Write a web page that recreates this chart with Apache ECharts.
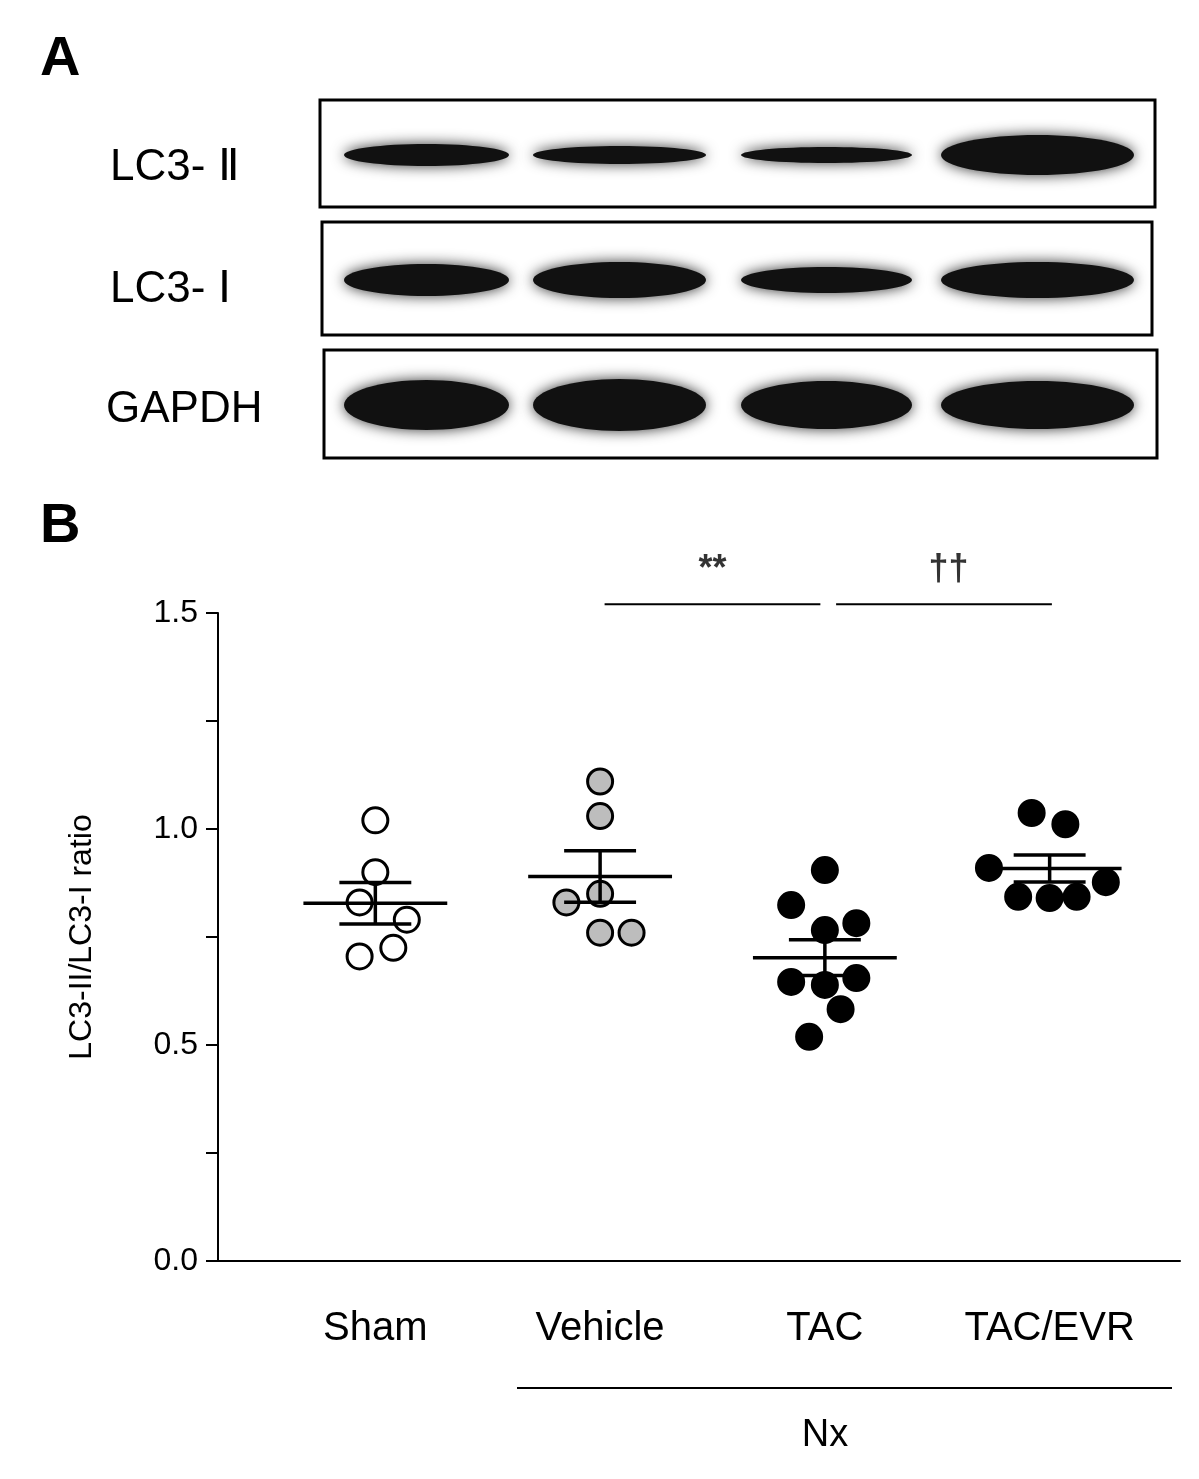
<!DOCTYPE html>
<html>
<head>
<meta charset="utf-8">
<script src="https://cdn.jsdelivr.net/npm/echarts@6/dist/echarts.min.js"></script>
<style>html,body{margin:0;background:#fff}#chart{width:1199px;height:1479px}</style>
</head>
<body>
<div id="chart"></div>
<script>
var groups = ['Sham', 'Vehicle', 'TAC', 'TAC/EVR'];
var sham = [1.02, 0.90, 0.83, 0.79, 0.725, 0.705];
var shamJitter = [0, 0, -0.07, 0.14, 0.08, -0.07];
var vehicle = [1.11, 1.03, 0.85, 0.83, 0.76, 0.76];
var vehicleJitter = [0, 0, 0, -0.15, 0, 0.14];
var tac = [0.905, 0.824, 0.782, 0.766, 0.646, 0.639, 0.655, 0.583, 0.519];
var tacJitter = [0, -0.15, 0.14, 0, -0.15, 0, 0.14, 0.07, -0.07];
var evr = [1.037, 1.011, 0.91, 0.877, 0.843, 0.84, 0.843];
var evrJitter = [-0.08, 0.07, -0.27, 0.25, -0.14, 0, 0.12];
var yTicks = [0, 0.5, 1.0, 1.5];

var chart = echarts.init(document.getElementById('chart'));

function pts(vals, jit, g) {
  return vals.map(function (v, i) { return [g + jit[i], v]; });
}
function stats(vals, g) {
  var n = vals.length, m = vals.reduce(function (a, b) { return a + b; }, 0) / n;
  var sd = Math.sqrt(vals.reduce(function (a, b) { return a + (b - m) * (b - m); }, 0) / (n - 1));
  return [g, m, sd / Math.sqrt(n)];
}
var sets = [sham, vehicle, tac, evr];
var summary = sets.map(function (s, i) { return stats(s, i + 1); });

function dotSeries(data, fill) {
  return {
    type: 'scatter', data: data, symbolSize: 25, z: 3,
    itemStyle: { color: fill, borderColor: '#000', borderWidth: 3, opacity: 1 }
  };
}

// western blot panel (decorative)
var bandRows = [
  { top: 100, bottom: 207, left: 320, right: 1155, h: [22, 18, 16, 40], y: 155 },
  { top: 222, bottom: 335, left: 322, right: 1152, h: [32, 36, 26, 36], y: 280 },
  { top: 350, bottom: 458, left: 324, right: 1157, h: [50, 52, 48, 48], y: 405 }
];
var lanes = [[338, 515], [527, 712], [735, 918], [935, 1140]];
var blot = [];
bandRows.forEach(function (r) {
  blot.push({ type: 'rect', shape: { x: r.left, y: r.top, width: r.right - r.left, height: r.bottom - r.top },
    style: { fill: '#fff', stroke: '#000', lineWidth: 3 } });
  lanes.forEach(function (l, i) {
    blot.push({ type: 'ellipse', shape: { cx: (l[0] + l[1]) / 2, cy: r.y, rx: (l[1] - l[0]) / 2 - 6, ry: r.h[i] / 2 },
      style: { fill: '#111', shadowBlur: 14, shadowColor: 'rgba(0,0,0,0.8)' } });
  });
});
var txt = function (x, y, t, size, weight, align) {
  return { type: 'text', x: x, y: y, style: { text: t, fontSize: size, fontWeight: weight || 'normal',
    fill: '#000', font: (weight || 'normal') + ' ' + size + 'px Arial, Liberation Sans', textAlign: align || 'left', textVerticalAlign: 'middle' } };
};
blot.push(txt(40, 60, 'A', 56, 'bold'));
blot.push(txt(40, 527, 'B', 56, 'bold'));
blot.push(txt(110, 168, 'LC3- Ⅱ', 44));
blot.push(txt(110, 290, 'LC3- Ⅰ', 44));
blot.push(txt(106, 410, 'GAPDH', 44));
blot.push({ type: 'line', shape: { x1: 517, y1: 1388, x2: 1172, y2: 1388 }, style: { stroke: '#000', lineWidth: 2 } });
blot.push(txt(825, 1436, 'Nx', 38, 'normal', 'center'));

chart.setOption({
  animation: false,
  graphic: blot,
  grid: { left: 218, right: 19, top: 613, bottom: 218 },
  xAxis: {
    type: 'value', min: 0.3, max: 4.58, splitLine: { show: false },
    axisLine: { lineStyle: { color: '#000', width: 2 } },
    axisTick: { show: false },
    axisLabel: { customValues: [1, 2, 3, 4], margin: 48, fontSize: 40, color: '#000', fontFamily: 'Arial, Liberation Sans',
      formatter: function (v) { return groups[Math.round(v) - 1]; } }
  },
  yAxis: {
    type: 'value', min: 0, max: 1.5, interval: 0.25, splitLine: { show: false },
    name: 'LC3-II/LC3-I ratio', nameLocation: 'middle', nameGap: 120, nameRotate: 90,
    nameTextStyle: { fontSize: 32, color: '#000', fontFamily: 'Arial, Liberation Sans' },
    axisLine: { show: true, lineStyle: { color: '#000', width: 2 } },
    axisTick: { show: true, length: 12, lineStyle: { color: '#000', width: 2 } },
    axisLabel: { fontSize: 32, color: '#000', margin: 20, fontFamily: 'Arial, Liberation Sans',
      formatter: function (v) { return yTicks.indexOf(v) >= 0 ? v.toFixed(1) : ''; } }
  },
  series: [
    dotSeries(pts(sham, shamJitter, 1), '#fff'),
    dotSeries(pts(vehicle, vehicleJitter, 2), '#bdbdbd'),
    dotSeries(pts(tac, tacJitter, 3), '#000'),
    dotSeries(pts(evr, evrJitter, 4), '#000'),
    {
      type: 'custom', z: 4, data: summary,
      renderItem: function (params, api) {
        var g = api.value(0), m = api.value(1), se = api.value(2);
        var p = function (x, y) { return api.coord([x, y]); };
        var st = { stroke: '#000', lineWidth: 3.5 };
        var seg = function (a, b) { return { type: 'line', shape: { x1: a[0], y1: a[1], x2: b[0], y2: b[1] }, style: st }; };
        return { type: 'group', children: [
          seg(p(g - 0.32, m), p(g + 0.32, m)),
          seg(p(g, m - se), p(g, m + se)),
          seg(p(g - 0.16, m + se), p(g + 0.16, m + se)),
          seg(p(g - 0.16, m - se), p(g + 0.16, m - se))
        ] };
      }
    },
    {
      type: 'line', clip: false, symbol: 'none', lineStyle: { color: '#000', width: 2 },
      data: [[2.02, 1.52], [2.98, 1.52]]
    },
    {
      type: 'line', clip: false, symbol: 'none', lineStyle: { color: '#000', width: 2 },
      data: [[3.05, 1.52], [4.01, 1.52]]
    },
    {
      type: 'scatter', clip: false, symbolSize: 0, silent: true,
      data: [{ value: [2.5, 1.6], label: { formatter: '**' } }, { value: [3.55, 1.6], label: { formatter: '††' } }],
      label: { show: true, position: 'inside', fontSize: 36, color: '#000', fontWeight: 'bold' }
    }
  ]
});
</script>
</body>
</html>
